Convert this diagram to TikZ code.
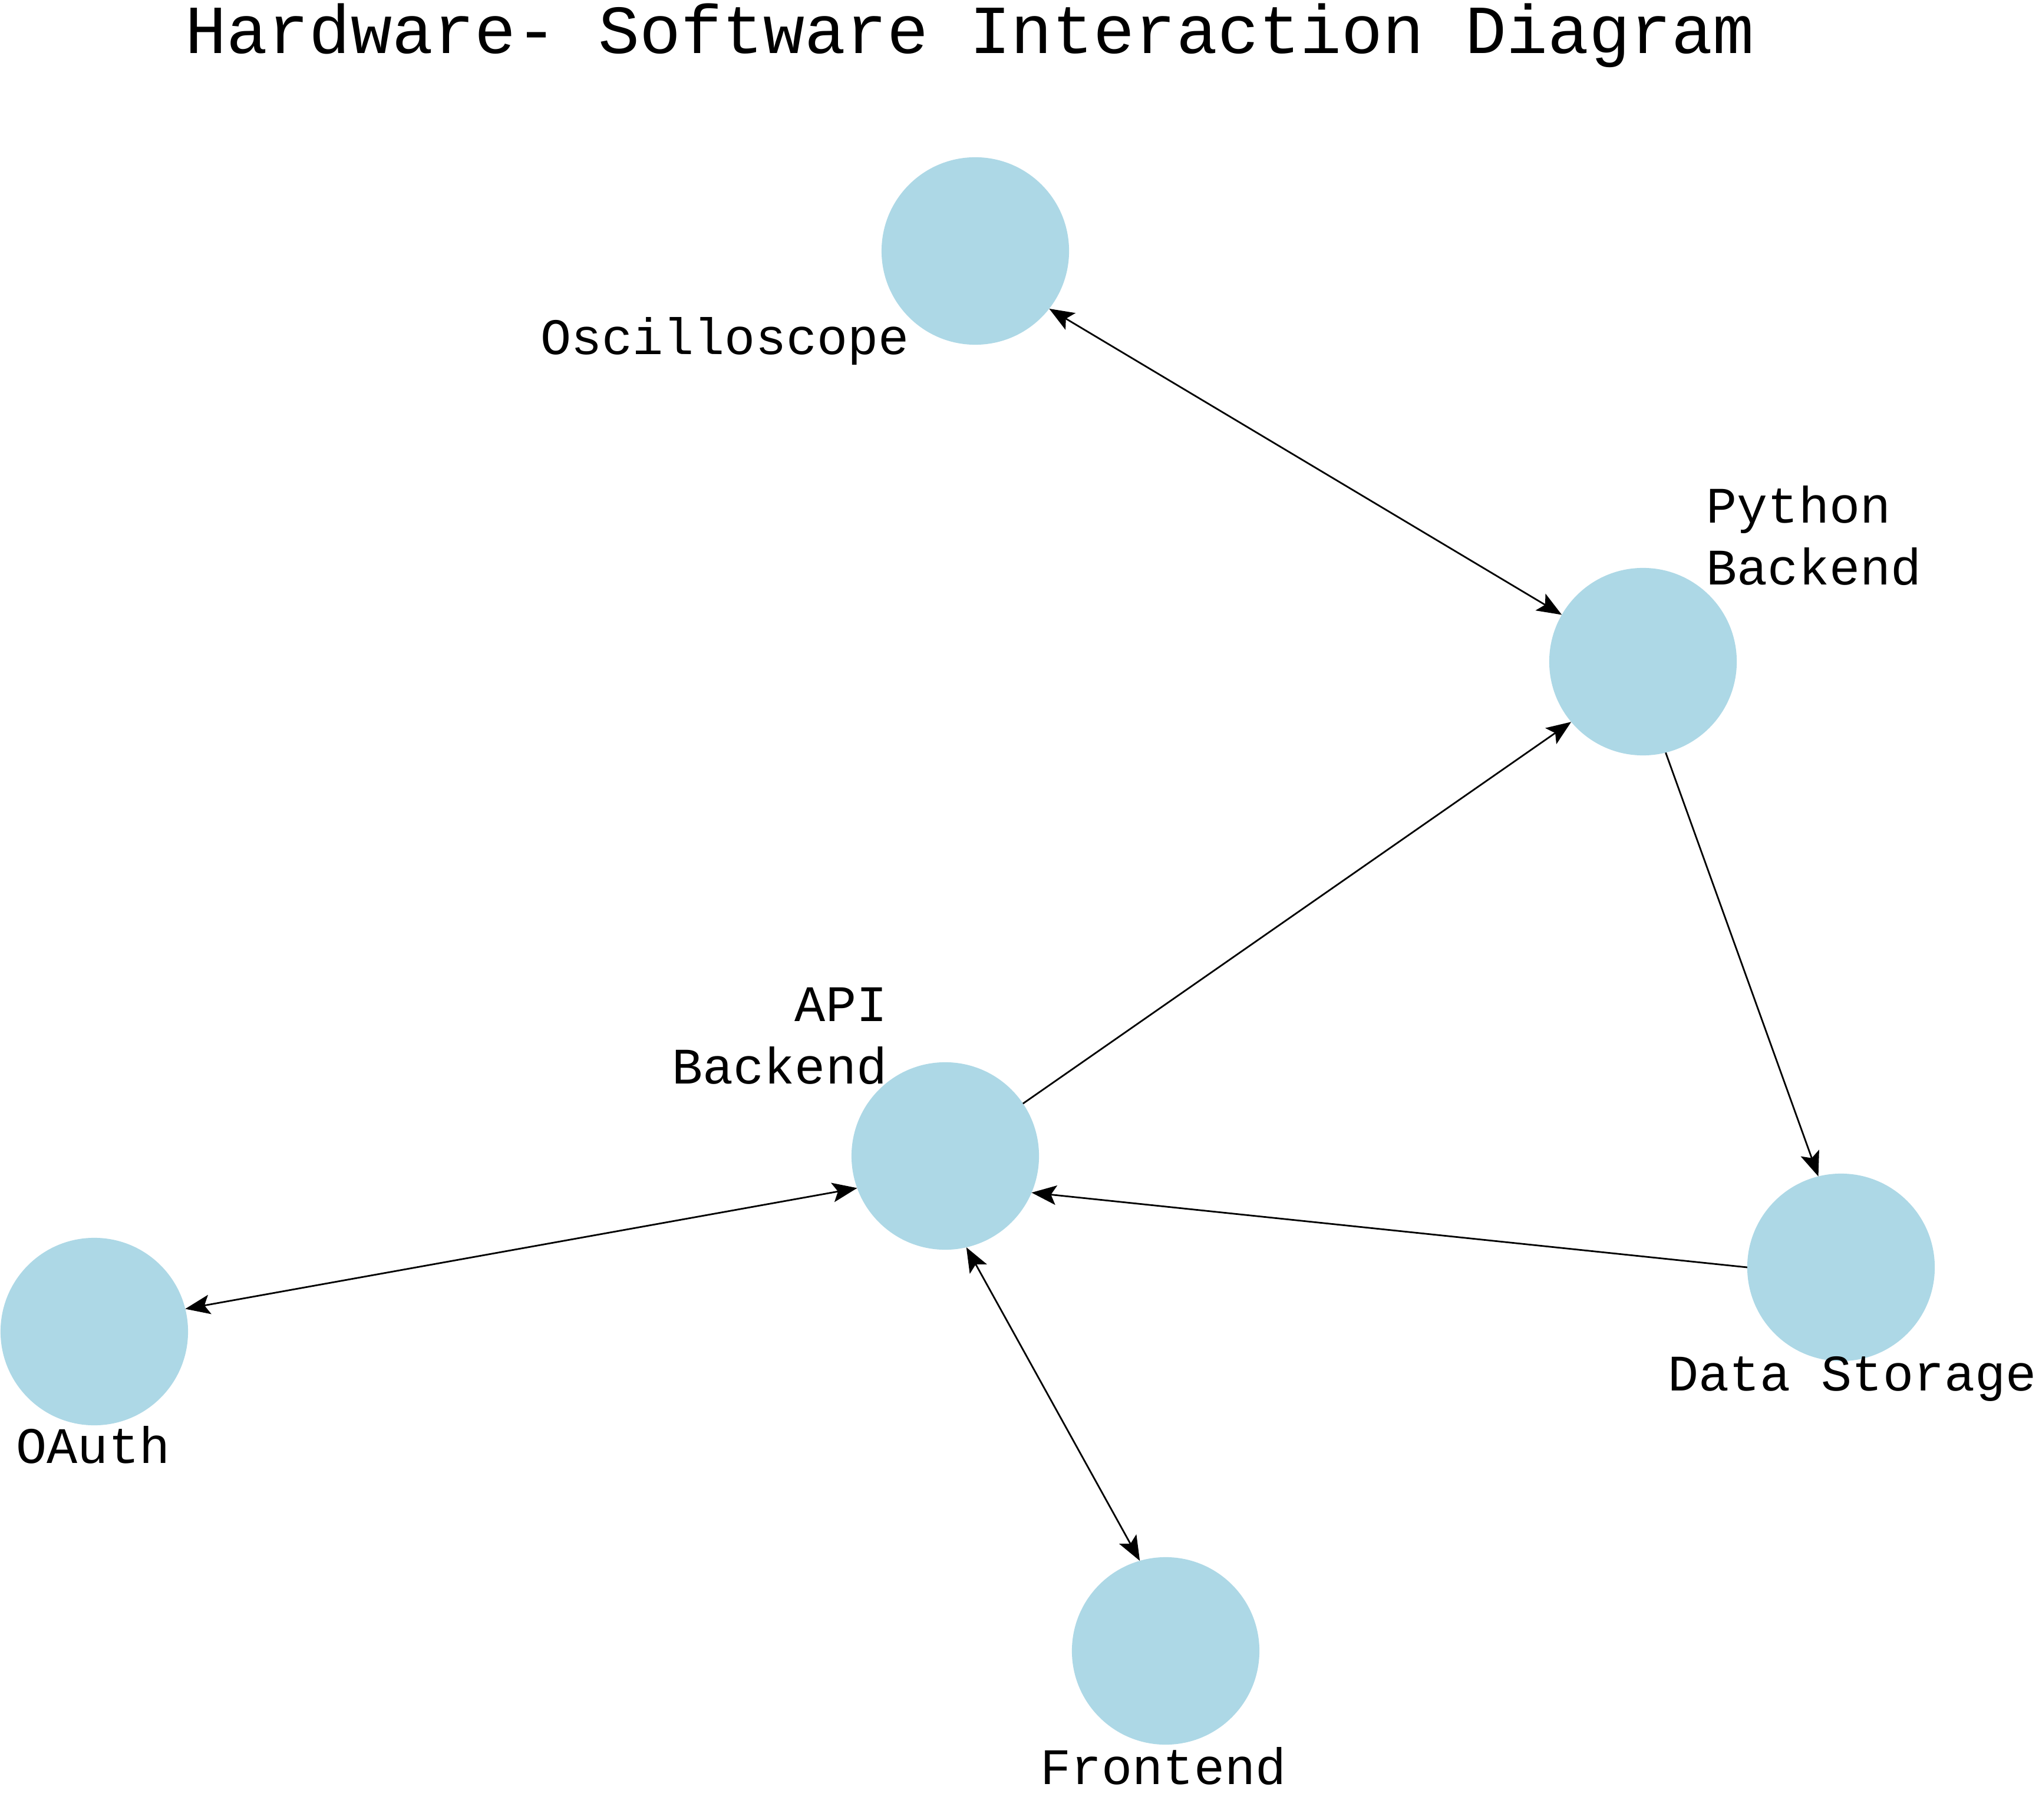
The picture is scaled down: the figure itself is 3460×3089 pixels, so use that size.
\documentclass[tikz,border=0pt]{standalone}
\usepackage{fontspec}
\newfontfamily\monof{Liberation Mono}
\usetikzlibrary{arrows.meta}
\definecolor{nodeblue}{HTML}{ADD8E6}
\tikzset{
  vert/.style={circle, fill=nodeblue, draw=none, minimum size=3.18cm, inner sep=0pt, outer sep=0pt},
  lbl/.style={inner sep=0pt, font=\monof\fontsize{24.7}{29}\selectfont},
  ttl/.style={inner sep=0pt, font=\monof\fontsize{33.2}{40}\selectfont},
  tipA/.tip={Stealth[length=0.42cm,width=0.33cm,inset=0.09cm]},
  arr/.style={-tipA, line width=0.028cm, black},
  darr/.style={tipA-tipA, line width=0.028cm, black}
}
\begin{document}
\begin{tikzpicture}[x=0.01cm, y=-0.01cm]
\useasboundingbox[fill=white] (0,0) rectangle (3460,3089);
% nodes
\node[vert] (osc) at (1655,426) {};
\node[vert] (py) at (2788,1123) {};
\node[vert] (api) at (1604,1962) {};
\node[vert] (oauth) at (160,2260) {};
\node[vert] (ds) at (3124,2151) {};
\node[vert] (fe) at (1978,2802) {};
% labels
\node[ttl, anchor=base] (title) at (1646,91) {Hardware- Software Interaction Diagram};
\node[lbl, anchor=base] (osclbl) at (1230,602) {Oscilloscope};
\node[lbl, anchor=base west] (pylblA) at (2895,888) {Python};
\node[lbl, anchor=base west] (pylblB) at (2895,993) {Backend};
\node[lbl, anchor=base east] (apilblA) at (1506,1733) {API};
\node[lbl, anchor=base east] (apilblB) at (1506,1839) {Backend};
\node[lbl, anchor=base] (oauthlbl) at (158,2483) {OAuth};
\node[lbl, anchor=base] (dslbl) at (3143,2360) {Data Storage};
\node[lbl, anchor=base] (felbl) at (1974,3028) {Frontend};
% connectors
\draw[darr] (osc.322) -- (py.150.4);
\draw[arr] (api.34.9) -- (py.220.2);
\draw[arr] (py.284.3) -- (ds.104.4);
\draw[arr] (ds.180) -- (api.337.9);
\draw[darr] (oauth.14.2) -- (api.200.8);
\draw[darr] (api.283) -- (fe.106.6);
\end{tikzpicture}
\end{document}
